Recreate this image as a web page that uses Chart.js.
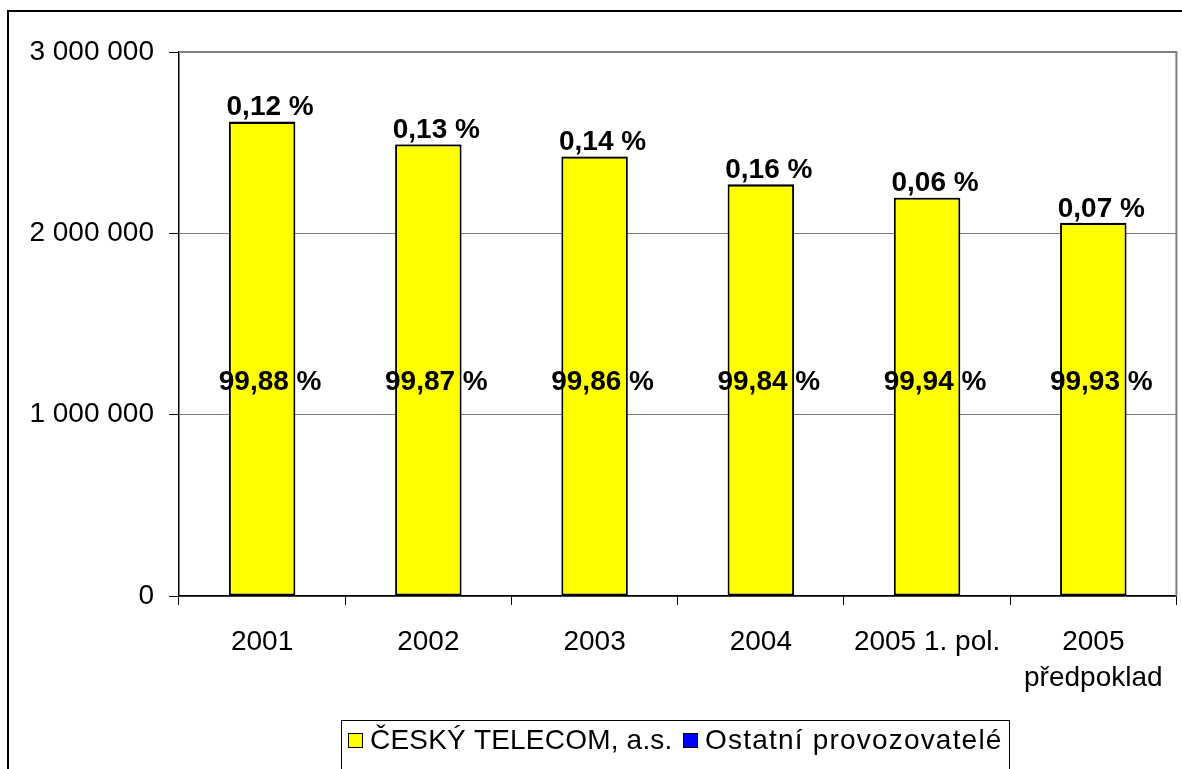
<!DOCTYPE html>
<html>
<head>
<meta charset="utf-8">
<script src="https://cdn.jsdelivr.net/npm/chart.js@4.4.1/dist/chart.umd.min.js"></script>
<style>
html,body{margin:0;padding:0;background:#fff;overflow:hidden;}
canvas{display:block;}
</style>
</head>
<body>
<canvas id="c" width="1182" height="769"></canvas>
<script>
const categories = ['2001', '2002', '2003', '2004', '2005 1. pol.', ['2005', 'předpoklad']];
const telecomValues = [2613400, 2489700, 2422100, 2268400, 2195700, 2056600];
const ostatniValues = [3140, 3240, 3390, 3640, 1320, 1440];
const topLabels = ['0,12 %', '0,13 %', '0,14 %', '0,16 %', '0,06 %', '0,07 %'];
const innerLabels = ['99,88 %', '99,87 %', '99,86 %', '99,84 %', '99,94 %', '99,93 %'];
const yTicks = [0, 1000000, 2000000, 3000000];
const seriesNames = ['ČESKÝ TELECOM, a.s.', 'Ostatní provozovatelé'];
const seriesColors = ['#FFFF00', '#0000FF'];
const innerLabelLevel = 1180000;

const FONT = '"Liberation Sans", Arial, sans-serif';
Chart.defaults.font.family = FONT;
Chart.defaults.color = '#000';

const decor = {
  id: 'decor',
  beforeDraw(chart) {
    const ctx = chart.ctx;
    ctx.save();
    ctx.fillStyle = '#fff';
    ctx.fillRect(0, 0, chart.width, chart.height);
    ctx.strokeStyle = '#000';
    ctx.lineWidth = 2;
    ctx.strokeRect(8, 11, 1300, 900);
    ctx.restore();
  },
  beforeDatasetsDraw(chart) {
    const ctx = chart.ctx, a = chart.chartArea;
    ctx.save();
    ctx.strokeStyle = '#808080';
    ctx.lineWidth = 2;
    ctx.beginPath();
    ctx.moveTo(a.left, a.top);
    ctx.lineTo(a.right, a.top);
    ctx.lineTo(a.right, a.bottom);
    ctx.stroke();
    ctx.restore();
  },
  afterDatasetsDraw(chart) {
    const ctx = chart.ctx;
    const meta = chart.getDatasetMeta(1);
    const y = chart.scales.y;
    ctx.save();
    ctx.fillStyle = '#000';
    ctx.font = 'bold 28px ' + FONT;
    ctx.textAlign = 'center';
    ctx.textBaseline = 'middle';
    meta.data.forEach((bar, i) => {
      ctx.fillText(topLabels[i], bar.x + 8, bar.y - 14);
      ctx.fillText(innerLabels[i], bar.x + 8, y.getPixelForValue(innerLabelLevel));
    });
    ctx.restore();
  },
  afterDraw(chart) {
    const ctx = chart.ctx;
    ctx.save();
    ctx.font = '28px ' + FONT;
    ctx.textBaseline = 'middle';
    ctx.strokeStyle = '#000';
    ctx.lineWidth = 1;
    ctx.strokeRect(341.5, 720.5, 668, 80);
    const cy = 740;
    const xs = [348, 683];
    const spacing = ['0.2px', '1.2px'];
    seriesNames.forEach((name, i) => {
      const x = xs[i];
      ctx.fillStyle = seriesColors[i];
      ctx.fillRect(x, cy - 7, 15, 15);
      ctx.strokeRect(x + 0.5, cy - 6.5, 14, 14);
      ctx.fillStyle = '#000';
      ctx.letterSpacing = spacing[i];
      ctx.fillText(name, x + 22, cy + 1);
    });
    ctx.restore();
  }
};

new Chart(document.getElementById('c'), {
  type: 'bar',
  data: {
    labels: categories,
    datasets: [
      { label: seriesNames[0], data: telecomValues, backgroundColor: seriesColors[0], borderColor: '#000', borderWidth: 2, borderSkipped: false },
      { label: seriesNames[1], data: ostatniValues, backgroundColor: seriesColors[1], borderColor: '#000', borderWidth: 2, borderSkipped: false }
    ]
  },
  options: {
    responsive: false,
    devicePixelRatio: 1,
    animation: false,
    datasets: { bar: { barPercentage: 0.4, categoryPercentage: 1.0 } },
    layout: { padding: { top: 52, right: 5, left: 0, bottom: 0 } },
    plugins: { legend: { display: false }, tooltip: { enabled: false } },
    scales: {
      x: {
        stacked: true,
        afterFit(s) { s.height = 173; },
        grid: { display: true, drawOnChartArea: false, drawTicks: true, tickLength: 9, tickColor: '#000', offset: true },
        border: { display: true, color: '#000', width: 1.5 },
        ticks: { font: { size: 28, lineHeight: 1.3 }, color: '#000', padding: 19, maxRotation: 0, autoSkip: false }
      },
      y: {
        stacked: true,
        min: 0,
        max: 3000000,
        afterFit(s) { s.width = 179; },
        afterBuildTicks(s) { s.ticks = yTicks.map(v => ({ value: v })); },
        grid: { color: '#7a7a7a', lineWidth: 1, tickLength: 10, tickColor: '#000' },
        border: { display: true, color: '#000', width: 1.5 },
        ticks: {
          font: { size: 28 },
          color: '#000',
          padding: 15,
          callback: v => String(v).replace(/\B(?=(\d{3})+(?!\d))/g, ' ')
        }
      }
    }
  },
  plugins: [decor]
});
</script>
</body>
</html>
